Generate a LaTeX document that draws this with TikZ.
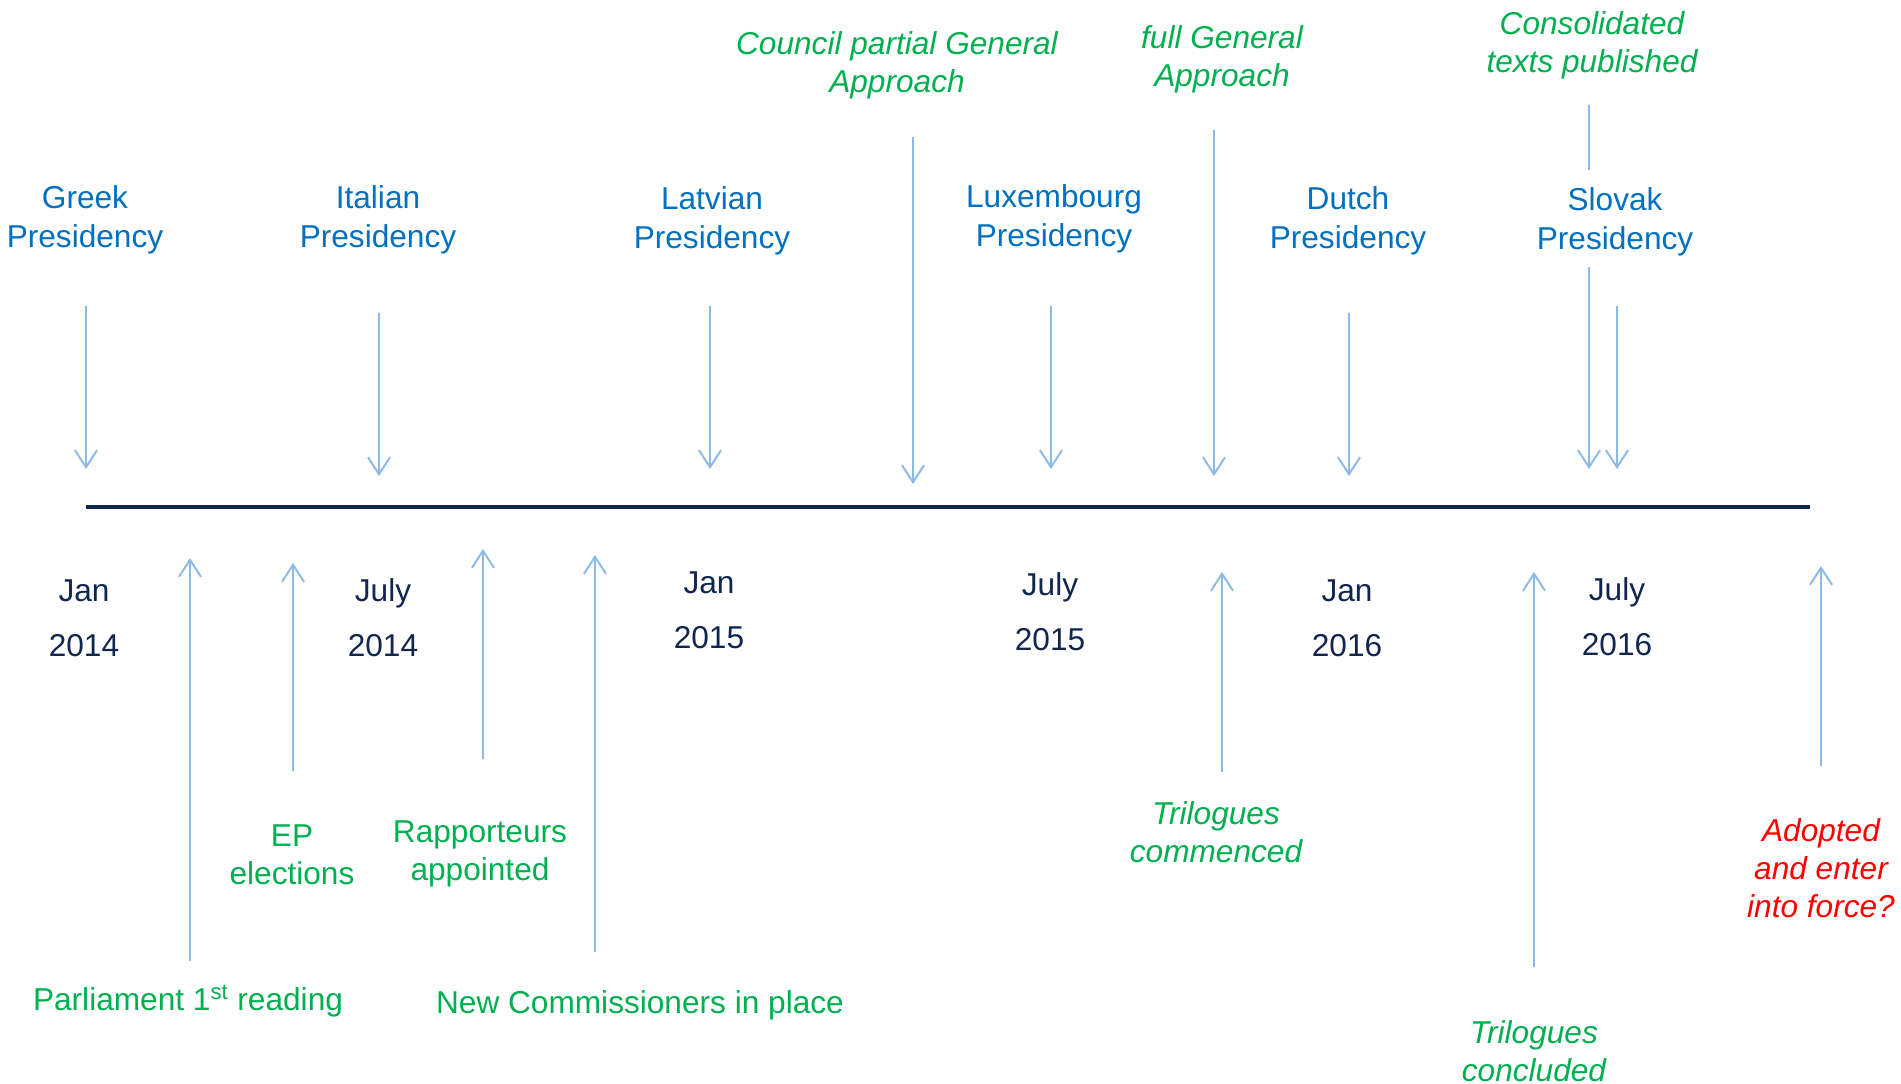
\documentclass[tikz,border=0pt]{standalone}
\usepackage{fontspec}
\setmainfont{Liberation Sans}
\usetikzlibrary{arrows.meta}
\usetikzlibrary{positioning}
\definecolor{PresBlue}{HTML}{0070C0}
\definecolor{EventGreen}{HTML}{00B050}
\definecolor{AxisNavy}{HTML}{10264F}
\definecolor{PointerBlue}{HTML}{8DB9E6}

\tikzset{
  pres/.style={align=center, inner sep=0pt, text=PresBlue,
    font=\fontsize{18}{22.2}\selectfont},
  event/.style={align=center, inner sep=0pt, text=EventGreen,
    font=\fontsize{18}{21.6}\selectfont},
  ievent/.style={event, font=\fontsize{18}{21.6}\selectfont\itshape},
  date/.style={align=center, inner sep=0pt, text=AxisNavy,
    font=\fontsize{18}{31.3}\selectfont},
  pointer/.style={PointerBlue, line width=1.1pt,
    -{Straight Barb[length=0.34cm, width=0.44cm, line width=1.1pt]}},
}

\begin{document}
\begin{tikzpicture}[x=0.02cm, y=-0.02cm]
  \useasboundingbox[fill=white] (0,0) rectangle (1901,1084);

  % time axis
  \coordinate (AxisL) at (86,507);
  \coordinate (AxisR) at (1810,507);
  \draw[AxisNavy, line width=2.1pt] (AxisL) -- (AxisR);

  % presidencies, pointing down onto the axis
  \foreach \nm/\lx/\ly/\ax/\ya/\yb/\txt in {%
    greek/85/220/86/306/469/Greek,
    italian/378/220/379/313/476/Italian,
    latvian/712/221/710/306/469/Latvian,
    luxembourg/1054/219/1051/306/469/Luxembourg,
    dutch/1348/221/1349/313/476/Dutch}{%
    \node[pres] (\nm) at (\lx,\ly) {\txt\\Presidency};
    \coordinate (\nm-from) at (\ax,\ya);
    \coordinate (\nm-to) at (\ax,\yb);
    \draw[pointer] (\nm-from) -- (\nm-to);
  }

  % council milestones
  \node[ievent] (partialGA) at (897,65) {Council partial General\\Approach};
  \coordinate (partialGA-from) at (913,137);
  \coordinate (partialGA-to) at (913,484);
  \draw[pointer] (partialGA-from) -- (partialGA-to);

  \node[ievent] (fullGA) at (1222,59) {full General\\Approach};
  \coordinate (fullGA-from) at (1214,130);
  \coordinate (fullGA-to) at (1214,476);
  \draw[pointer] (fullGA-from) -- (fullGA-to);

  % consolidated texts, broken around the Slovak label
  \node[ievent] (consolidated) at (1592,45) {Consolidated\\texts published};
  \node[pres] (slovak) at (1615,222) {Slovak\\Presidency};
  \coordinate (cons-a) at (1589,105);
  \coordinate (cons-b) at (1589,170);
  \coordinate (cons-c) at (1589,267);
  \coordinate (cons-d) at (1589,469);
  \draw[PointerBlue, line width=1.1pt] (cons-a) -- (cons-b);
  \draw[pointer] (cons-c) -- (cons-d);
  \coordinate (slovak-from) at (1617,306);
  \coordinate (slovak-to) at (1617,469);
  \draw[pointer] (slovak-from) -- (slovak-to);

  % dates under the axis
  \node[date] (jan14)  at (84,618)   {Jan\\2014};
  \node[date] (jul14)  at (383,618)  {July\\2014};
  \node[date] (jan15)  at (709,610)  {Jan\\2015};
  \node[date] (jul15)  at (1050,612) {July\\2015};
  \node[date] (jan16)  at (1347,618) {Jan\\2016};
  \node[date] (jul16)  at (1617,617) {July\\2016};

  % parliament / commission events, pointing up to the axis
  \foreach \nm/\st/\lx/\ly/\ax/\ya/\yb/\txt in {%
    reading/event/188/1001/190/961/558/{Parliament 1\textsuperscript{st} reading},
    elections/event/292/855/293/771/563/{EP\\elections},
    rapporteurs/event/480/854/483/759/549/{Rapporteurs\\appointed},
    commissioners/event/640/1005/595/952/555/{New Commissioners in place},
    trilstart/ievent/1216/832/1222/772/572/{Trilogues\\commenced},
    trilend/ievent/1534/1051/1534/967/572/{Trilogues\\concluded}}{%
    \node[\st] (\nm) at (\lx,\ly) {\txt};
    \coordinate (\nm-from) at (\ax,\ya);
    \coordinate (\nm-to) at (\ax,\yb);
    \draw[pointer] (\nm-from) -- (\nm-to);
  }

  \node[ievent, text=red] (adopted) at (1821,868) {Adopted\\and enter\\into force?};
  \coordinate (adopted-from) at (1821,766);
  \coordinate (adopted-to) at (1821,566);
  \draw[pointer] (adopted-from) -- (adopted-to);
\end{tikzpicture}
\end{document}
